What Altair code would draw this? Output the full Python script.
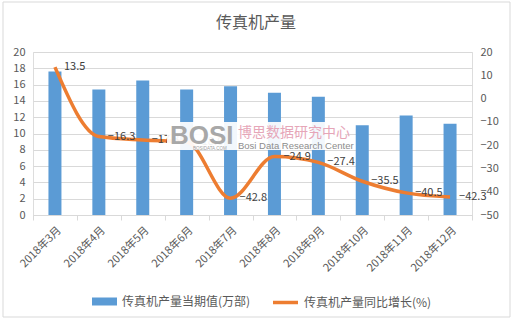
import altair as alt
import pandas as pd

months = ["2018年3月", "2018年4月", "2018年5月", "2018年6月", "2018年7月",
          "2018年8月", "2018年9月", "2018年10月", "2018年11月", "2018年12月"]
output_vals = [17.6, 15.4, 16.5, 15.4, 15.8, 15.0, 14.5, 11.0, 12.2, 11.2]
growth_vals = [13.5, -16.3, -17.8, -18.6, -42.8, -24.9, -27.4, -35.5, -40.5, -42.3]

bar_name = "传真机产量当期值(万部)"
line_name = "传真机产量同比增长(%)"
title_text = "传真机产量"

df = pd.DataFrame({"month": months, "output": output_vals, "growth": growth_vals})

FONT = "Noto Sans CJK SC"
GREY = "#595959"

x_enc = alt.X("month:N", sort=months, title=None,
              scale=alt.Scale(paddingInner=0, paddingOuter=0),
              axis=alt.Axis(labelAngle=-45, labelFontSize=11, labelColor=GREY,
                            labelFont=FONT, tickBand="extent", tickSize=5,
                            tickColor="#D9D9D9", domainColor="#D9D9D9",
                            labelPadding=4, grid=False))

bars = alt.Chart(df).mark_bar(size=13).encode(
    x=x_enc,
    y=alt.Y("output:Q", title=None, scale=alt.Scale(domain=[0, 20], nice=False),
            axis=alt.Axis(values=list(range(0, 21, 2)), grid=True, gridColor="#D9D9D9",
                          domain=False, ticks=False, labelColor=GREY, labelFontSize=11,
                          labelFont=FONT, labelPadding=8)),
    color=alt.Color("s:N", scale=alt.Scale(domain=[bar_name], range=["#5B9BD5"]),
                    legend=alt.Legend(title=None, orient="none", legendX=58, legendY=236,
                                      symbolType="M-1,-0.32H1V0.32H-1Z", symbolSize=625,
                                      labelFont=FONT, labelFontSize=12, labelColor=GREY,
                                      labelOffset=4)),
).transform_calculate(s=f"'{bar_name}'")

right_axis = alt.Axis(orient="right", values=list(range(-50, 21, 10)), grid=False,
                      domain=False, ticks=False, labelColor=GREY, labelFontSize=11,
                      labelFont=FONT, labelPadding=8)
y_right = alt.Scale(domain=[-50, 20], nice=False)

line = alt.Chart(df).mark_line(strokeWidth=3.5, interpolate="monotone").encode(
    x=alt.X("month:N", sort=months),
    y=alt.Y("growth:Q", title=None, scale=y_right, axis=right_axis),
    stroke=alt.Stroke("s:N", scale=alt.Scale(domain=[line_name], range=["#ED7D31"]),
                      legend=alt.Legend(title=None, orient="none", legendX=238, legendY=236,
                                        symbolType="stroke", symbolSize=625,
                                        symbolStrokeWidth=3.5,
                                        labelFont=FONT, labelFontSize=12, labelColor=GREY,
                                        labelOffset=4)),
).transform_calculate(s=f"'{line_name}'")

labels = alt.Chart(df).mark_text(align="left", baseline="middle", dx=9, fontSize=11,
                                 font=FONT, color="#404040").encode(
    x=alt.X("month:N", sort=months),
    y=alt.Y("growth:Q", title=None, scale=y_right, axis=right_axis),
    text=alt.Text("growth:Q", format=".1f"),
)

main = alt.layer(bars, alt.layer(line, labels)).resolve_scale(y="independent")

one = pd.DataFrame({"a": [0]})
wm_box = alt.Chart(one).mark_rect(color="white", opacity=0.92).encode(
    x=alt.value(134), x2=alt.value(312), y=alt.value(70), y2=alt.value(98))
wm_bosi = alt.Chart(one).mark_text(text="BOSI", font="Liberation Sans", fontWeight="bold",
                                   fontSize=26, color="#A8A8A8", align="left",
                                   baseline="alphabetic").encode(
    x=alt.value(137), y=alt.value(92))
wm_cn = alt.Chart(one).mark_text(text="博思数据研究中心", font=FONT, fontSize=14,
                                 color="#E6A6B8", align="left", baseline="alphabetic").encode(
    x=alt.value(205), y=alt.value(85))
wm_en = alt.Chart(one).mark_text(text="Bosi Data Research Center", font="Liberation Sans",
                                 fontSize=9.5, color="#8C8C8C", align="left",
                                 baseline="alphabetic").encode(
    x=alt.value(205), y=alt.value(97))
wm_url = alt.Chart(one).mark_text(text="BOSIDATA.COM", font="Liberation Sans",
                                  fontSize=4.5, color="#A0A0A0", align="left",
                                  baseline="alphabetic").encode(
    x=alt.value(160), y=alt.value(98))
title = alt.Chart(one).mark_text(text=title_text, font=FONT, fontSize=16, color=GREY,
                                 align="center", baseline="middle").encode(
    x=alt.value(223), y=alt.value(-29))
border = alt.Chart(one).mark_rect(fill=None, stroke="#D9D9D9", strokeWidth=1).encode(
    x=alt.value(-30), x2=alt.value(477), y=alt.value(-50), y2=alt.value(265))

chart = alt.layer(main, wm_box, wm_bosi, wm_cn, wm_en, wm_url, title, border).properties(
    width=439, height=163,
    autosize=alt.AutoSizeParams(type="none"),
    padding={"left": 33, "top": 52, "right": 40, "bottom": 104},
).configure_view(stroke=None).configure(background="white")

chart.save("out.html", embed_options={"renderer": "svg", "actions": False})
